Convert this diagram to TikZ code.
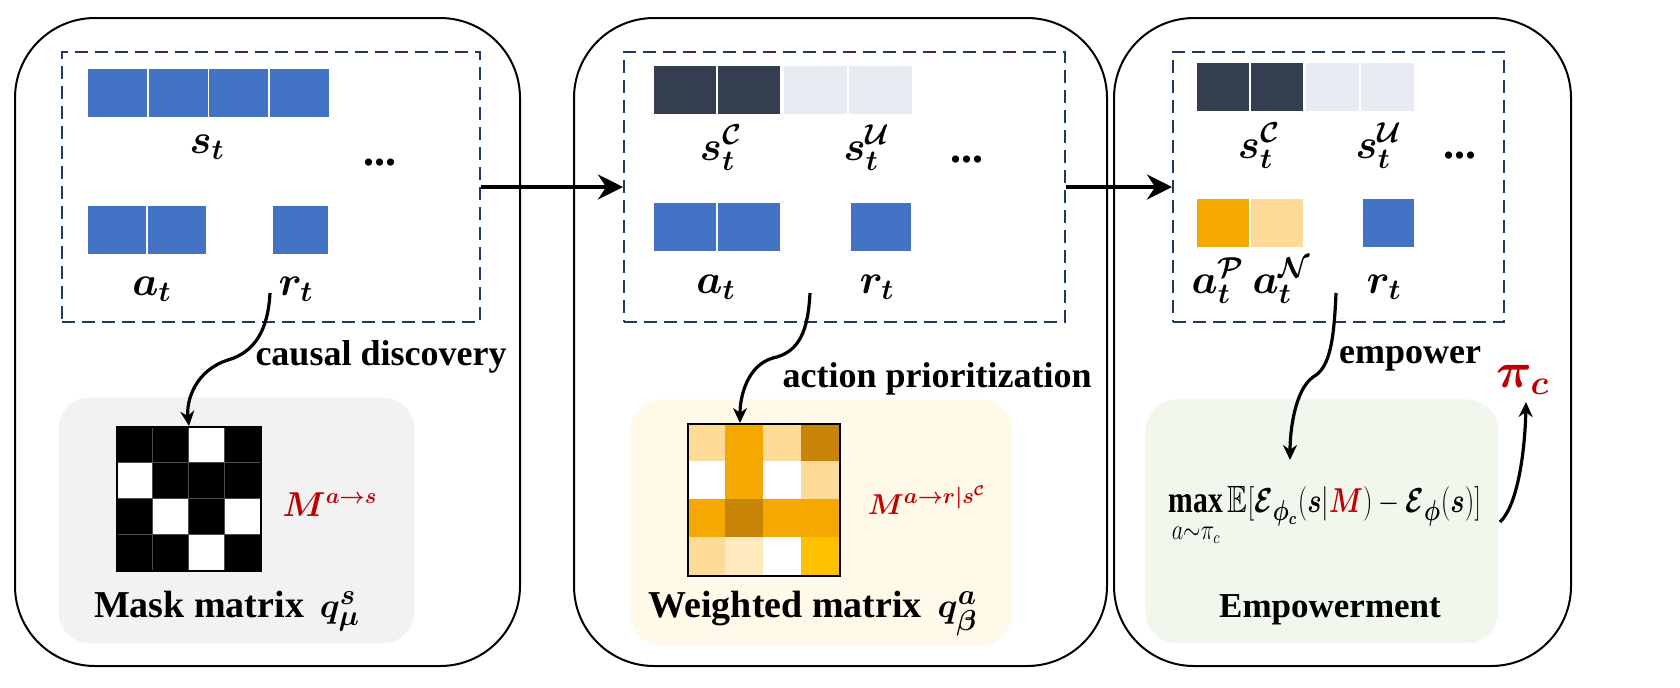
\documentclass[tikz,border=0pt]{standalone}
\usepackage{amsmath,amssymb,bm}
\usepackage{fontspec}
\setmainfont{Liberation Serif}
\usetikzlibrary{arrows.meta}
\definecolor{cblue}{HTML}{4472C4}
\definecolor{cdark}{HTML}{333F50}
\definecolor{clight}{HTML}{E8EBF2}
\definecolor{corange}{HTML}{F5A800}
\definecolor{clorange}{HTML}{FDDA97}
\definecolor{cdorange}{HTML}{C78407}
\definecolor{cgold}{HTML}{FFC000}
\definecolor{cpale}{HTML}{FFE9BF}
\definecolor{cred}{HTML}{C00000}
\definecolor{cnavy}{HTML}{203864}
\definecolor{bggrey}{HTML}{F2F2F2}
\definecolor{bgyellow}{HTML}{FEF9E8}
\definecolor{bggreen}{HTML}{F2F7EE}
\begin{document}
\begin{tikzpicture}[x=0.5pt,y=-0.5pt,
  panel/.style={draw=black, line width=1pt, rounded corners=40pt, anchor=north west, inner sep=0pt},
  dbox/.style={draw=cnavy, line width=1pt, dash pattern=on 6.5pt off 3.5pt, anchor=north west, inner sep=0pt},
  bgbox/.style={rounded corners=16pt, anchor=north west, inner sep=0pt},
  cell/.style={draw=white, line width=0.8pt},
  lbl/.style={inner sep=0pt, anchor=base, font=\fontsize{22}{26}\selectfont},
  redlbl/.style={inner sep=0pt, anchor=base, text=cred, font=\fontsize{16}{20}\selectfont},
  txt/.style={inner sep=0pt, anchor=base, font=\fontsize{18}{22}\selectfont\bfseries},
  title/.style={inner sep=0pt, anchor=base, font=\fontsize{19}{23}\selectfont\bfseries},
  flow/.style={line width=2pt, -{Stealth[length=12.5pt,width=12.5pt]}},
  curv/.style={line width=1.6pt, -{Stealth[length=7.5pt,width=7pt]}},
  matbox/.style={draw=black, line width=1pt, anchor=north west, inner sep=0pt},
  dotlbl/.style={inner sep=0pt, font=\fontsize{22}{26}\selectfont\bfseries}
]
\useasboundingbox (0,0) rectangle (1680,687);
\fill[white] (0,0) rectangle (1680,687);

% panels
\node[panel, minimum width=252.5pt, minimum height=324pt] (p1) at (14,17) {};
\node[panel, minimum width=266.5pt, minimum height=324pt] (p2) at (573,17) {};
\node[panel, minimum width=228.5pt, minimum height=324pt] (p3) at (1113,17) {};

% background boxes
\node[bgbox, fill=bggrey, minimum width=178pt, minimum height=123pt] (g1) at (58,397) {};
\node[bgbox, fill=bgyellow, minimum width=191pt, minimum height=123pt] (g2) at (630,399) {};
\node[bgbox, fill=bggreen, minimum width=176.5pt, minimum height=122pt] (g3) at (1145,399) {};

% dashed boxes
\node[dbox, minimum width=209pt, minimum height=135pt] (d1) at (61,51) {};
\node[dbox, minimum width=220.5pt, minimum height=135pt] (d2) at (623,51) {};
\node[dbox, minimum width=165.5pt, minimum height=135pt] (d3) at (1172,51) {};

% panel 1 cells
\foreach \i in {0,...,3} \fill[cblue, cell] (87+60.75*\i,68) rectangle ++(60.75,50);
\foreach \i in {0,1} \fill[cblue, cell] (87+60*\i,205) rectangle ++(60,50);
\fill[cblue, cell] (272,205) rectangle (329,255);
\node[lbl] (st1) at (207,153) {$\bm{s_t}$};
\node[lbl] (at1) at (152,295) {$\bm{a_t}$};
\node[lbl] (rt1) at (296,295) {$\bm{r_t}$};
\node[dotlbl] (dots1) at (380,163) {...};

% panel 2 cells
\foreach \i in {0,1} \fill[cdark, cell] (653+64*\i,65) rectangle ++(64,50);
\foreach \i in {2,3} \fill[clight, cell] (653+65*\i,65) rectangle ++(65,50);
\foreach \i in {0,1} \fill[cblue, cell] (653+64*\i,202) rectangle ++(64,50);
\fill[cblue, cell] (850,202) rectangle (912,252);
\node[lbl] (st2) at (721,160) {$\bm{s_t^{\mathcal{C}}}$};
\node[lbl] (su2) at (867,160) {$\bm{s_t^{\mathcal{U}}}$};
\node[lbl] (at2) at (716,293) {$\bm{a_t}$};
\node[lbl] (rt2) at (877,293) {$\bm{r_t}$};
\node[dotlbl] (dots2) at (967,160) {...};

% panel 3 cells
\foreach \i in {0,1} \fill[cdark, cell] (1196+54*\i,62) rectangle ++(54,50);
\foreach \i in {2,3} \fill[clight, cell] (1196+54.75*\i,62) rectangle ++(54.75,50);
\fill[corange, cell] (1196,198) rectangle (1250,248);
\fill[clorange, cell] (1250,198) rectangle (1304,248);
\fill[cblue, cell] (1362,198) rectangle (1415,248);
\node[lbl] (st3) at (1259,158) {$\bm{s_t^{\mathcal{C}}}$};
\node[lbl] (su3) at (1379,158) {$\bm{s_t^{\mathcal{U}}}$};
\node[lbl] (ap3) at (1218,293) {$\bm{a_t^{\mathcal{P}}}$};
\node[lbl] (an3) at (1282,293) {$\bm{a_t^{\mathcal{N}}}$};
\node[lbl] (rt3) at (1384,293) {$\bm{r_t}$};
\node[dotlbl] (dots3) at (1460,156) {...};

% mask matrix
\fill[white] (116,426) rectangle ++(144,144);
\foreach \c/\r in {0/0,1/0,3/0,1/1,2/1,3/1,0/2,2/2,0/3,1/3,3/3}
  \fill[black, draw=black!70, line width=0.3pt] (116+36*\c,426+36*\r) rectangle ++(36,36);
\node[matbox, minimum width=72pt, minimum height=72pt] (mat1) at (116,426) {};
\node[redlbl] (m1) at (330,516) {$\bm{M^{a\to s}}$};
\node[title] (t1) at (227,617) {Mask matrix\, $\bm{q^s_\mu}$};

% weighted matrix
\foreach \c/\r/\col in {0/0/clorange,1/0/corange,2/0/clorange,3/0/cdorange,
  0/1/white,1/1/corange,2/1/white,3/1/clorange,
  0/2/corange,1/2/cdorange,2/2/corange,3/2/corange,
  0/3/clorange,1/3/cpale,2/3/white,3/3/cgold}
  \fill[\col] (687+38*\c,423+38*\r) rectangle ++(38,38);
\node[matbox, minimum width=76pt, minimum height=76pt] (mat2) at (687,423) {};
\node[redlbl, font=\fontsize{15}{19}\selectfont] (m2) at (927,514) {$\bm{M^{a\to r|s^{\mathcal{C}}}}$};
\node[title] (t2) at (813,617) {Weighted matrix\, $\bm{q^a_\beta}$};

% empowerment
\node[inner sep=0pt, anchor=base, font=\fontsize{19}{23}\selectfont] (f3) at (1325,512)
  {\scalebox{0.78}[1]{$\mathop{\mathbf{max}}\limits_{\raisebox{-2pt}{$\scriptstyle a\sim\pi_c$}}\mathbb{E}[\bm{\mathcal{E}}_{\bm{\phi_c}}(\bm{s}|\textcolor{cred}{\bm{M}})-\bm{\mathcal{E}}_{\bm{\phi}}(\bm{s})]$}};
\node[title, font=\fontsize{17.5}{21}\selectfont\bfseries] (t3) at (1330,617) {Empowerment};
\node[inner sep=0pt, anchor=base, text=cred, font=\fontsize{24}{28}\selectfont] (pic) at (1523,387) {$\bm{\pi_c}$};

% flow arrows
\draw[flow] (d1.east) -- (d2.west);
\draw[flow] (d2.east) -- (d3.west);

% curved connectors
\coordinate (s1) at (270,293);
\coordinate (s2) at (810,293);
\coordinate (e2) at (740,423);
\coordinate (s3) at (1336,293);
\coordinate (e3) at (1290,460);
\coordinate (s4) at (1500,522);
\coordinate (e4) at (1526,402);
\draw[curv] (s1) .. controls (268,330) and (255,352) .. (228,360) .. controls (196,370) and (186,400) .. (mat1.north);
\draw[curv] (s2) .. controls (808,330) and (800,352) .. (773,358) .. controls (748,365) and (740,395) .. (e2);
\draw[curv] (s3) .. controls (1334,340) and (1330,368) .. (1313,377) .. controls (1295,390) and (1290,430) .. (e3);
\draw[curv] (s4) .. controls (1518,505) and (1525,450) .. (e4);

\node[txt] (l1) at (381,365) {causal discovery};
\node[txt] (l2) at (937,387) {action prioritization};
\node[txt] (l3) at (1410,363) {empower};
\end{tikzpicture}
\end{document}
